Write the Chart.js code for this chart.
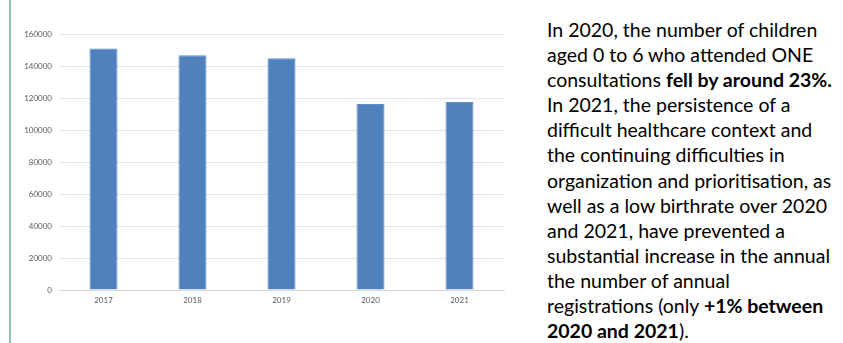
<!DOCTYPE html>
<html>
<head>
<meta charset="utf-8">
<script src="https://cdn.jsdelivr.net/npm/chart.js@4.4.1/dist/chart.umd.min.js"></script>
<style>
  html, body { margin: 0; padding: 0; background: #ffffff; }
  body { width: 843px; height: 343px; position: relative; overflow: hidden; }
  .rule { position: absolute; left: 9px; top: 0; width: 2px; height: 343px; background: #8fc4b0; }
  .plot { position: absolute; left: 0; top: 0; width: 510px; height: 343px; }
  .note {
    position: absolute; left: 547px; top: 17px;
    font-family: Lato, "Liberation Sans", sans-serif;
    font-size: 19.5px; line-height: 25.1px; color: #000000;
    white-space: nowrap;
  }
  .note b { font-weight: 700; }
</style>
</head>
<body>
<div class="rule"></div>
<div class="plot"><canvas id="chart" width="510" height="343"></canvas></div>
<div class="note">
In 2020, the number of children<br>
aged 0 to 6 who attended ONE<br>
consultations <b>fell by around 23%.</b><br>
In 2021, the persistence of a<br>
difficult healthcare context and<br>
the continuing difficulties in<br>
organization and prioritisation, as<br>
well as a low birthrate over 2020<br>
and 2021, have prevented a<br>
substantial increase in the annual<br>
the number of annual<br>
registrations (only <b>+1% between<br>
2020 and 2021</b>).
</div>
<script>
// Children aged 0-6 attending ONE consultations, per year
const years = ['2017', '2018', '2019', '2020', '2021'];
const children = [151000, 146700, 144800, 116300, 117500];
const yTicks = [0, 20000, 40000, 60000, 80000, 100000, 120000, 140000, 160000];

const tickFont = { family: 'Lato, "Liberation Sans", sans-serif', size: 8 };

new Chart(document.getElementById('chart'), {
  type: 'bar',
  data: {
    labels: years,
    datasets: [{
      data: children,
      backgroundColor: '#4f81bd',
      borderColor: '#5d8cc6',
      borderWidth: 1,
      categoryPercentage: 1,
      barPercentage: 0.315
    }]
  },
  options: {
    responsive: false,
    animation: false,
    devicePixelRatio: 1,
    layout: { padding: { top: 34, right: 6, bottom: 33, left: 0 } },
    plugins: { legend: { display: false }, tooltip: { enabled: false } },
    scales: {
      x: {
        grid: { display: false, drawTicks: false },
        border: { display: true, color: '#d9d9d9', width: 1 },
        ticks: { color: '#595959', font: tickFont, padding: 6, autoSkip: false, maxRotation: 0 },
        afterFit: s => { s.height = 20; }
      },
      y: {
        min: 0, max: 160000,
        afterBuildTicks: s => { s.ticks = yTicks.map(v => ({ value: v })); },
        grid: { color: '#e3e3e3', lineWidth: 1, drawTicks: false },
        border: { display: false },
        ticks: { color: '#595959', font: tickFont, padding: 7, autoSkip: false, callback: v => String(v) },
        afterFit: s => { s.width = 59; }
      }
    }
  }
});
</script>
</body>
</html>
